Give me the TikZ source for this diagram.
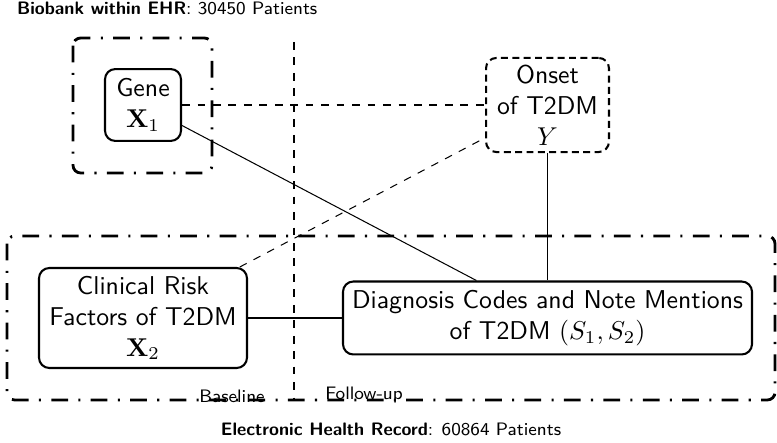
\documentclass[tikz,border=0pt]{standalone}
\usepackage{amsmath,amssymb}
\usepackage{tikz}
\usetikzlibrary{positioning}

\begin{document}
\begin{tikzpicture}[
x=0.388pt, y=-0.388pt,
font=\sffamily,
var/.style={rectangle, rounded corners=4pt, draw, thick, align=center, inner sep=2pt},
latent/.style={var, dash pattern=on 2.7pt off 1.7pt},
cohort/.style={draw, line width=1.1pt, rounded corners=3pt, dash pattern=on 6.5pt off 4pt on 0.8pt off 4pt},
small/.style={font=\sffamily\scriptsize},
]
\useasboundingbox (0,0) rectangle (777,443);

% cohorts
\node[small, anchor=west] (bio) at (8,8) {\textbf{Biobank within EHR}: 30450 Patients};
\node[small] (ehr) at (391,429) {\textbf{Electronic Health Record}: 60864 Patients};
\draw[cohort] (73,38) rectangle (212,173);
\draw[cohort] (7,236) rectangle (775,400);

% time split
\coordinate (t0) at (294,42);
\coordinate (t1) at (294,400);
\draw[thick, dashed] (t0) -- (t1);
\node[small] (base) at (232,396) {Baseline};
\node[small] (follow) at (364,395) {Follow-up};

% variables
\node[var, minimum width=29.5pt, minimum height=27.9pt] (x1) at (143,105) {Gene\\$\mathbf{X}_1$};
\node[latent, minimum width=47.7pt, minimum height=36.5pt] (y) at (547.5,105) {Onset\\of T2DM\\$Y$};
\node[var, minimum width=80.7pt, minimum height=38.8pt] (x2) at (143,318) {Clinical Risk\\Factors of T2DM\\$\mathbf{X}_2$};
\node[var, minimum width=158.7pt, minimum height=28.3pt] (s) at (547.5,318) {Diagnosis Codes and Note Mentions\\of T2DM $(S_1,S_2)$};

\path
(x1) edge[dashed] (y)
(x1) edge (s)
(x2) edge[dashed] (y)
(x2) edge (s)
(y) edge (s)
;
\end{tikzpicture}
\end{document}
